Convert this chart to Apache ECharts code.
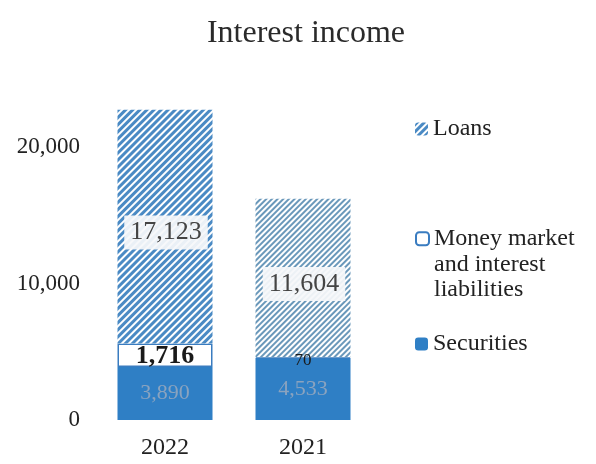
<!DOCTYPE html>
<html>
<head>
<meta charset="utf-8">
<script src="https://cdn.jsdelivr.net/npm/echarts@6/dist/echarts.min.js"></script>
<style>html,body{margin:0;padding:0;background:#fff;}#c{width:596px;height:464px;}</style>
</head>
<body>
<div id="c"></div>
<script>
var categories = ['2022', '2021'];
var securities = [3890, 4533];
var moneyMarket = [1716, 70];
var loans = [17123, 11604];
var yTicks = [0, 10000, 20000];

var serif = '"Liberation Serif", "DejaVu Serif", serif';
function fmt(v) { return String(v).replace(/\B(?=(\d{3})+(?!\d))/g, ','); }
var mmName = 'Money market\nand interest\nliabilities';

var chart = echarts.init(document.getElementById('c'));
chart.setOption({
  backgroundColor: '#fff',
  animation: false,
  title: {
    text: 'Interest income', left: 301, top: 13, textAlign: 'center',
    textStyle: { fontFamily: serif, fontSize: 32, fontWeight: 'normal', color: '#2a2a2a' }
  },
  grid: { left: 96, right: 224, top: 10.5, bottom: 44 },
  xAxis: {
    type: 'category', data: categories,
    axisLine: { show: false }, axisTick: { show: false },
    axisLabel: { fontFamily: serif, fontSize: 24, color: '#222', margin: 16 }
  },
  yAxis: {
    type: 'value', min: 0, max: 30000, interval: 10000,
    splitLine: { show: false }, axisLine: { show: false }, axisTick: { show: false },
    axisLabel: {
      fontFamily: serif, fontSize: 23, color: '#222', margin: 16, showMaxLabel: false,
      formatter: function (v) { return yTicks.indexOf(v) >= 0 ? fmt(v) : ''; }
    }
  },
  legend: [
    { data: ['Loans'], left: 410, top: 112, itemWidth: 13, itemHeight: 13, itemGap: 4,
      textStyle: { fontFamily: serif, fontSize: 24, color: '#222' } },
    { data: [mmName], left: 410, top: 170, itemWidth: 13, itemHeight: 13, itemGap: 4,
      formatter: function (n) { return '\n\n' + n; },
      textStyle: { fontFamily: serif, fontSize: 24, color: '#222', lineHeight: 25.5 } },
    { data: ['Securities'], left: 410, top: 327, itemWidth: 13, itemHeight: 13, itemGap: 4,
      textStyle: { fontFamily: serif, fontSize: 24, color: '#222' } }
  ],
  series: [
    {
      name: 'Securities', type: 'bar', stack: 't', barWidth: 95,
      itemStyle: { color: '#2f7fc5' },
      label: { show: true, position: 'inside', fontFamily: serif, fontSize: 22, color: '#8aa3bf',
        formatter: function (p) { return fmt(p.value); } },
      data: securities
    },
    {
      name: mmName, type: 'bar', stack: 't', barWidth: 95,
      itemStyle: { color: '#fff', borderColor: '#3a7cc0', borderWidth: 1.5 },
      label: { show: true, position: 'inside', fontFamily: serif, color: '#1a1a1a',
        formatter: function (p) { return fmt(p.value); } },
      data: moneyMarket.map(function (v, i) {
        return { value: v, label: { fontSize: i === 0 ? 26 : 17, fontWeight: i === 0 ? 'bold' : 'normal', offset: i === 0 ? [0, 1] : [0, 3] } };
      })
    },
    {
      name: 'Loans', type: 'bar', stack: 't', barWidth: 95,
      itemStyle: {
        color: '#fff',
        decal: { symbol: 'rect', dashArrayX: [1, 0], dashArrayY: [3, 2], rotation: -Math.PI / 4, color: '#4a8ac4' }
      },
      label: { show: true, position: 'inside', fontFamily: serif, fontSize: 26, color: '#444', offset: [1, 6],
        backgroundColor: 'rgba(246,248,250,0.93)', padding: [5, 6, 3, 6],
        formatter: function (p) { return fmt(p.value); } },
      data: loans.map(function (v, i) {
        return i === 0 ? v : { value: v, itemStyle: { decal: { symbol: 'rect', dashArrayX: [1, 0], dashArrayY: [2, 2], rotation: -Math.PI / 4, color: '#6a98ba' } } };
      })
    }
  ]
});
</script>
</body>
</html>
